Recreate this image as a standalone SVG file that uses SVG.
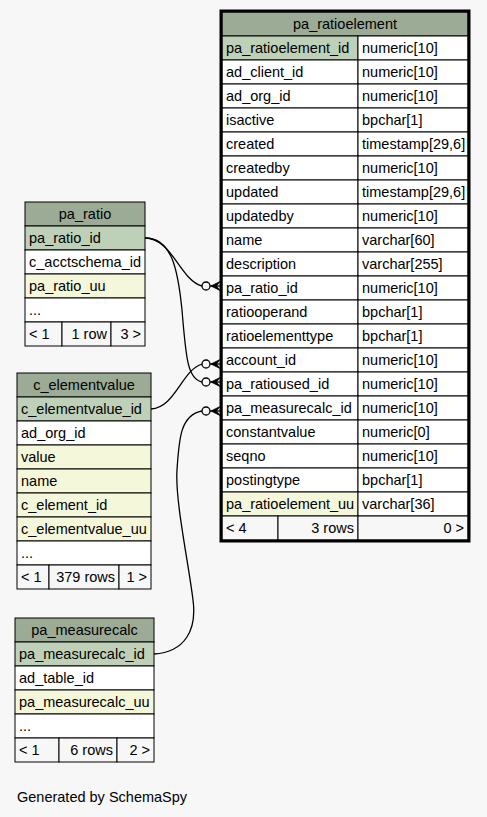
<svg xmlns="http://www.w3.org/2000/svg" xmlns:xlink="http://www.w3.org/1999/xlink" width="487" height="817" viewBox="0 0 487 817">
<style>
text{font-family:"Liberation Sans",Arial,sans-serif;font-size:14.5px;fill:#000}
.c{text-anchor:middle}
.r{text-anchor:end}
.hd{fill:#9bab96;stroke:#000;stroke-width:1}
.pk{fill:#bed1b8;stroke:#000;stroke-width:1}
.ix{fill:#f4f7da;stroke:#000;stroke-width:1}
.w{fill:#fff;stroke:#000;stroke-width:1}
.ft{fill:#f7f7f7;stroke:#000;stroke-width:1}
.frame{fill:none;stroke:#000;stroke-width:3}
.edge{fill:none;stroke:#000;stroke-width:1.3}
</style>
<defs>
<g id="crowodot">
<circle cx="-14" cy="0" r="4" fill="none" stroke="#000" stroke-width="1.3"/>
<path d="M-10,0 L0,0" stroke="#000" stroke-width="1.3"/>
<path d="M0,-4.5 L-9,0 L0,4.5 L-3.5,0 Z" fill="#000" stroke="#000" stroke-width="0.8"/>
</g>
</defs>
<rect x="0" y="0" width="487" height="817" fill="#f7f7f7"/>

<g id="connectors">
<path class="edge" d="M145,238 C172,238 180,280 202,286"/>
<path class="edge" d="M145,238 C172,238 178,270 182,310 C186,360 188,379 202,382"/>
<path class="edge" d="M151,409 C175,408 182,370 202,364"/>
<path class="edge" d="M154,654 C185,652 197,630 193,600 C188,560 175,500 177,470 C179,440 180,415 202,411"/>
<use xlink:href="#crowodot" x="220" y="286"/>
<use xlink:href="#crowodot" x="220" y="364"/>
<use xlink:href="#crowodot" x="220" y="382"/>
<use xlink:href="#crowodot" x="220" y="411"/>
</g>

<g id="pa_ratioelement">
<rect class="hd" x="222" y="12" width="246" height="24"/>
<text class="c" x="345" y="29">pa_ratioelement</text>
<rect class="pk" x="222" y="36" width="136" height="24"/><rect class="w" x="358" y="36" width="110" height="24"/>
<text x="226" y="53">pa_ratioelement_id</text><text x="362" y="53">numeric[10]</text>
<rect class="w" x="222" y="60" width="136" height="24"/><rect class="w" x="358" y="60" width="110" height="24"/>
<text x="226" y="77">ad_client_id</text><text x="362" y="77">numeric[10]</text>
<rect class="w" x="222" y="84" width="136" height="24"/><rect class="w" x="358" y="84" width="110" height="24"/>
<text x="226" y="101">ad_org_id</text><text x="362" y="101">numeric[10]</text>
<rect class="w" x="222" y="108" width="136" height="24"/><rect class="w" x="358" y="108" width="110" height="24"/>
<text x="226" y="125">isactive</text><text x="362" y="125">bpchar[1]</text>
<rect class="w" x="222" y="132" width="136" height="24"/><rect class="w" x="358" y="132" width="110" height="24"/>
<text x="226" y="149">created</text><text x="362" y="149">timestamp[29,6]</text>
<rect class="w" x="222" y="156" width="136" height="24"/><rect class="w" x="358" y="156" width="110" height="24"/>
<text x="226" y="173">createdby</text><text x="362" y="173">numeric[10]</text>
<rect class="w" x="222" y="180" width="136" height="24"/><rect class="w" x="358" y="180" width="110" height="24"/>
<text x="226" y="197">updated</text><text x="362" y="197">timestamp[29,6]</text>
<rect class="w" x="222" y="204" width="136" height="24"/><rect class="w" x="358" y="204" width="110" height="24"/>
<text x="226" y="221">updatedby</text><text x="362" y="221">numeric[10]</text>
<rect class="w" x="222" y="228" width="136" height="24"/><rect class="w" x="358" y="228" width="110" height="24"/>
<text x="226" y="245">name</text><text x="362" y="245">varchar[60]</text>
<rect class="w" x="222" y="252" width="136" height="24"/><rect class="w" x="358" y="252" width="110" height="24"/>
<text x="226" y="269">description</text><text x="362" y="269">varchar[255]</text>
<rect class="w" x="222" y="276" width="136" height="24"/><rect class="w" x="358" y="276" width="110" height="24"/>
<text x="226" y="293">pa_ratio_id</text><text x="362" y="293">numeric[10]</text>
<rect class="w" x="222" y="300" width="136" height="24"/><rect class="w" x="358" y="300" width="110" height="24"/>
<text x="226" y="317">ratiooperand</text><text x="362" y="317">bpchar[1]</text>
<rect class="w" x="222" y="324" width="136" height="24"/><rect class="w" x="358" y="324" width="110" height="24"/>
<text x="226" y="341">ratioelementtype</text><text x="362" y="341">bpchar[1]</text>
<rect class="w" x="222" y="348" width="136" height="24"/><rect class="w" x="358" y="348" width="110" height="24"/>
<text x="226" y="365">account_id</text><text x="362" y="365">numeric[10]</text>
<rect class="w" x="222" y="372" width="136" height="24"/><rect class="w" x="358" y="372" width="110" height="24"/>
<text x="226" y="389">pa_ratioused_id</text><text x="362" y="389">numeric[10]</text>
<rect class="w" x="222" y="396" width="136" height="24"/><rect class="w" x="358" y="396" width="110" height="24"/>
<text x="226" y="413">pa_measurecalc_id</text><text x="362" y="413">numeric[10]</text>
<rect class="w" x="222" y="420" width="136" height="24"/><rect class="w" x="358" y="420" width="110" height="24"/>
<text x="226" y="437">constantvalue</text><text x="362" y="437">numeric[0]</text>
<rect class="w" x="222" y="444" width="136" height="24"/><rect class="w" x="358" y="444" width="110" height="24"/>
<text x="226" y="461">seqno</text><text x="362" y="461">numeric[10]</text>
<rect class="w" x="222" y="468" width="136" height="24"/><rect class="w" x="358" y="468" width="110" height="24"/>
<text x="226" y="485">postingtype</text><text x="362" y="485">bpchar[1]</text>
<rect class="ix" x="222" y="492" width="136" height="24"/><rect class="w" x="358" y="492" width="110" height="24"/>
<text x="226" y="509">pa_ratioelement_uu</text><text x="362" y="509">varchar[36]</text>
<rect class="ft" x="222" y="516" width="56" height="24"/><rect class="ft" x="278" y="516" width="80" height="24"/><rect class="ft" x="358" y="516" width="110" height="24"/>
<text x="226" y="533">&lt; 4</text><text class="r" x="354" y="533">3 rows</text><text class="r" x="464" y="533">0 &gt;</text>
<rect class="frame" x="221" y="11" width="248" height="530"/>
</g>

<g id="pa_ratio">
<rect class="hd" x="25" y="202" width="120" height="24"/>
<text class="c" x="85" y="219">pa_ratio</text>
<rect class="pk" x="25" y="226" width="120" height="24"/><text x="29" y="243">pa_ratio_id</text>
<rect class="w" x="25" y="250" width="120" height="24"/><text x="29" y="267">c_acctschema_id</text>
<rect class="ix" x="25" y="274" width="120" height="24"/><text x="29" y="291">pa_ratio_uu</text>
<rect class="w" x="25" y="298" width="120" height="24"/><text x="29" y="315">...</text>
<rect class="ft" x="25" y="322" width="37" height="24"/><rect class="ft" x="62" y="322" width="49" height="24"/><rect class="ft" x="111" y="322" width="34" height="24"/>
<text x="29" y="339">&lt; 1</text><text class="r" x="107" y="339">1 row</text><text class="r" x="141" y="339">3 &gt;</text>
</g>

<g id="c_elementvalue">
<rect class="hd" x="17" y="373" width="134" height="24"/>
<text class="c" x="84" y="390">c_elementvalue</text>
<rect class="pk" x="17" y="397" width="134" height="24"/><text x="21" y="414">c_elementvalue_id</text>
<rect class="w" x="17" y="421" width="134" height="24"/><text x="21" y="438">ad_org_id</text>
<rect class="ix" x="17" y="445" width="134" height="24"/><text x="21" y="462">value</text>
<rect class="ix" x="17" y="469" width="134" height="24"/><text x="21" y="486">name</text>
<rect class="ix" x="17" y="493" width="134" height="24"/><text x="21" y="510">c_element_id</text>
<rect class="ix" x="17" y="517" width="134" height="24"/><text x="21" y="534">c_elementvalue_uu</text>
<rect class="w" x="17" y="541" width="134" height="24"/><text x="21" y="558">...</text>
<rect class="ft" x="17" y="565" width="32" height="24"/><rect class="ft" x="49" y="565" width="70" height="24"/><rect class="ft" x="119" y="565" width="32" height="24"/>
<text x="21" y="582">&lt; 1</text><text class="r" x="115" y="582">379 rows</text><text class="r" x="147" y="582">1 &gt;</text>
</g>

<g id="pa_measurecalc">
<rect class="hd" x="15" y="618" width="139" height="24"/>
<text class="c" x="84.5" y="635">pa_measurecalc</text>
<rect class="pk" x="15" y="642" width="139" height="24"/><text x="19" y="659">pa_measurecalc_id</text>
<rect class="w" x="15" y="666" width="139" height="24"/><text x="19" y="683">ad_table_id</text>
<rect class="ix" x="15" y="690" width="139" height="24"/><text x="19" y="707">pa_measurecalc_uu</text>
<rect class="w" x="15" y="714" width="139" height="24"/><text x="19" y="731">...</text>
<rect class="ft" x="15" y="738" width="44" height="24"/><rect class="ft" x="59" y="738" width="58" height="24"/><rect class="ft" x="117" y="738" width="37" height="24"/>
<text x="19" y="755">&lt; 1</text><text class="r" x="113" y="755">6 rows</text><text class="r" x="150" y="755">2 &gt;</text>
</g>

<text x="17" y="802">Generated by SchemaSpy</text>
</svg>
